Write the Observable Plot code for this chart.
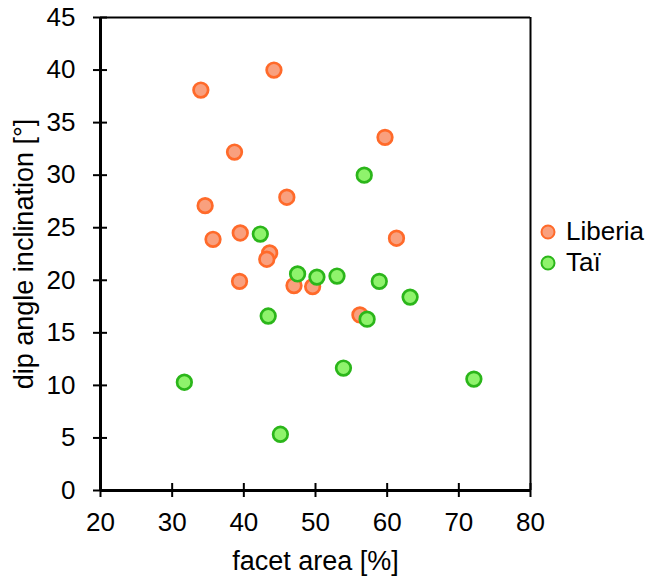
<!DOCTYPE html>
<html>
<head>
<meta charset="utf-8">
<script src="https://cdn.jsdelivr.net/npm/d3@7"></script>
<script src="https://cdn.jsdelivr.net/npm/@observablehq/plot@0.6"></script>
<style>
  body { margin: 0; background: #fff; font-family: "Liberation Sans", Arial, sans-serif; }
  #wrap { position: relative; width: 649px; height: 580px; }
  #legend { position: absolute; left: 539px; top: 216px; font-size: 26px; color: #000; }
  #legend .row { display: flex; align-items: center; height: 31px; }
  #legend svg { margin-right: 9px; }
</style>
</head>
<body>
<div id="wrap"><div id="legend"></div></div>
<script>
const seriesNames = ["Liberia", "Taï"];
const liberiaFacet = [44.2, 34.0, 38.7, 46.0, 34.6, 35.7, 39.5, 43.6, 43.2, 39.4, 47.0, 49.6, 56.2, 59.7, 61.3];
const liberiaDip   = [40.0, 38.1, 32.2, 27.9, 27.1, 23.9, 24.5, 22.6, 22.0, 19.9, 19.5, 19.4, 16.7, 33.6, 24.0];
const taiFacet = [42.3, 56.8, 47.5, 50.2, 53.0, 58.9, 63.2, 57.2, 43.4, 53.9, 31.7, 45.1, 72.1];
const taiDip   = [24.4, 30.0, 20.6, 20.3, 20.4, 19.9, 18.4, 16.3, 16.6, 11.65, 10.3, 5.35, 10.6];
const xTicks = [20, 30, 40, 50, 60, 70, 80];
const yTicks = [0, 5, 10, 15, 20, 25, 30, 35, 40, 45];
const fills = ["#F9A07E", "#8FF36C"];
const strokes = ["#FF6A2A", "#2BB61A"];

const data = [
  ...liberiaFacet.map((v, i) => ({series: seriesNames[0], facet: v, dip: liberiaDip[i]})),
  ...taiFacet.map((v, i) => ({series: seriesNames[1], facet: v, dip: taiDip[i]}))
];

const chart = Plot.plot({
  width: 649,
  height: 580,
  marginLeft: 100,
  marginRight: 119,
  marginTop: 17,
  marginBottom: 90,
  style: {fontFamily: "'Liberation Sans', Arial, sans-serif", fontSize: "26px", color: "#000", background: "#fff", overflow: "visible"},
  x: {domain: [20, 80]},
  y: {domain: [0, 45]},
  color: {domain: seriesNames, range: fills},
  marks: [
    Plot.ruleY([45], {stroke: "#000", strokeWidth: 2}),
    Plot.ruleX([80], {stroke: "#000", strokeWidth: 2}),
    Plot.ruleY([0], {stroke: "#000", strokeWidth: 3}),
    Plot.ruleX([20], {stroke: "#000", strokeWidth: 3}),
    Plot.axisX({ticks: xTicks, tickSize: 14, dy: -7, tickPadding: 15, strokeWidth: 2, label: null, fontSize: 26}),
    Plot.axisX({ticks: [], label: "facet area [%]", labelArrow: "none", labelAnchor: "center", labelOffset: 79, fontSize: 27}),
    Plot.axisY({ticks: yTicks, tickSize: 14, dx: 7, tickPadding: 18, strokeWidth: 2, label: null, fontSize: 26}),
    Plot.axisY({ticks: [], label: "dip angle inclination [°]", labelArrow: "none", labelAnchor: "center", labelOffset: 87, fontSize: 27}),
    Plot.dot(data, {
      x: "facet", y: "dip", r: 7.3,
      fill: "series",
      stroke: d => strokes[seriesNames.indexOf(d.series)],
      strokeWidth: 2.7
    })
  ]
});
document.getElementById("wrap").prepend(chart);

const legend = document.getElementById("legend");
seriesNames.forEach((name, i) => {
  const row = document.createElement("div");
  row.className = "row";
  row.innerHTML = `<svg width="18" height="18"><circle cx="9" cy="9" r="6.5" fill="${fills[i]}" stroke="${strokes[i]}" stroke-width="2"/></svg><span>${name}</span>`;
  legend.appendChild(row);
});
</script>
</body>
</html>
